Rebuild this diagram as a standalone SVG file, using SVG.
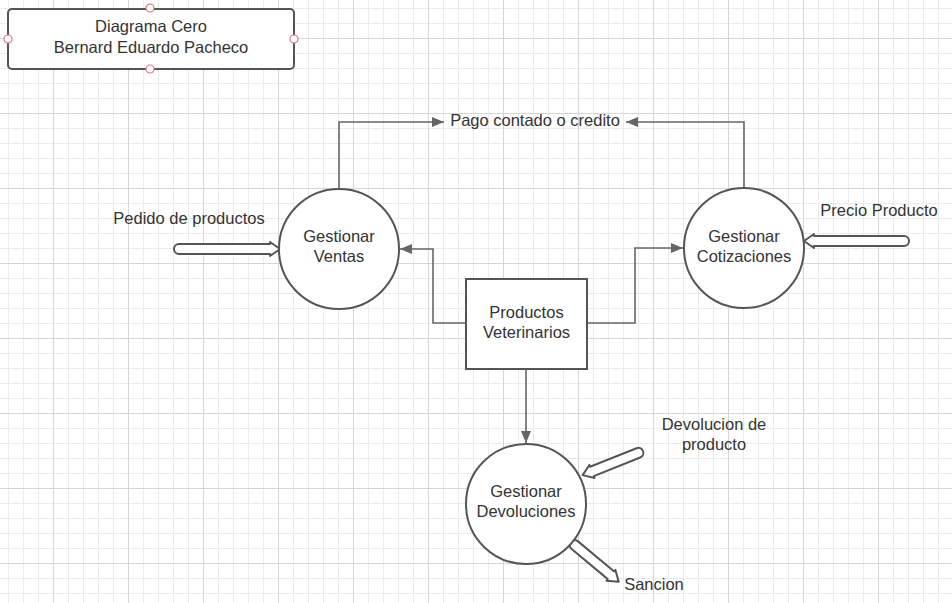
<svg xmlns="http://www.w3.org/2000/svg" width="952" height="603" viewBox="0 0 952 603">
<style>
text{font-family:"Liberation Sans",Arial,sans-serif;font-size:16.5px;fill:#333;text-anchor:middle}
.node{fill:#fff;stroke:#555;stroke-width:2}
.conn{fill:none;stroke:#666;stroke-width:1.6}
.fat{fill:#fff;stroke:#555;stroke-width:2;stroke-linejoin:round}
.pt{fill:#fff;stroke:#e2707c;stroke-width:1.2}
</style>
<defs>
<pattern id="grid" patternUnits="userSpaceOnUse" x="53" y="113" width="75" height="75">
<path d="M15.5 0V75M30.5 0V75M45.5 0V75M60.5 0V75M0 15.5H75M0 30.5H75M0 45.5H75M0 60.5H75" stroke="#ebebeb" stroke-width="1"/>
<path d="M0.5 0V75M0 0.5H75" stroke="#d6d6d6" stroke-width="1"/>
</pattern>
<marker id="ah" viewBox="0 0 12 10" refX="12" refY="5" markerWidth="12" markerHeight="10" markerUnits="userSpaceOnUse" orient="auto">
<path d="M0 0L12 5L0 10Z" fill="#666"/>
</marker>
</defs>
<rect width="952" height="603" fill="#fff"/>
<rect width="952" height="603" fill="url(#grid)"/>

<g id="title">
<rect class="node" x="8" y="9" width="286" height="60" rx="4"/>
<text x="151" y="31.5">Diagrama Cero</text>
<text x="151" y="52.5">Bernard Eduardo Pacheco</text>
<circle class="pt" cx="150" cy="8" r="4"/>
<circle class="pt" cx="8" cy="39" r="4"/>
<circle class="pt" cx="294" cy="39" r="4"/>
<circle class="pt" cx="150" cy="69" r="4"/>
</g>

<g id="connectors">
<path class="conn" d="M339 189V122H444" marker-end="url(#ah)"/>
<path class="conn" d="M744 188V122H626" marker-end="url(#ah)"/>
<path class="conn" d="M466 323H433V249H400" marker-end="url(#ah)"/>
<path class="conn" d="M587 323H635V248H683" marker-end="url(#ah)"/>
<path class="conn" d="M526 369V443" marker-end="url(#ah)"/>
<path class="fat" transform="translate(174 249)" d="M5-5H96V-7L106 0L96 7V5H5A5 5 0 0 1 5-5Z"/>
<path class="fat" transform="translate(909 241) rotate(180)" d="M5-5H95V-7L105 0L95 7V5H5A5 5 0 0 1 5-5Z"/>
<path class="fat" transform="translate(643 451) rotate(158.2)" d="M5-5H55V-7L65 0L55 7V5H5A5 5 0 0 1 5-5Z"/>
<path class="fat" transform="translate(571 542) rotate(39.8)" d="M5-5H52V-7L62 0L52 7V5H5A5 5 0 0 1 5-5Z"/>
</g>

<g id="label-pago"><text x="535" y="125.5">Pago contado o credito</text></g>
<g id="label-pedido"><text x="189" y="223.5">Pedido de productos</text></g>
<g id="label-precio"><text x="879" y="215.5">Precio Producto</text></g>
<g id="label-devolucion"><text x="714" y="429.5">Devolucion de</text><text x="714" y="449.5">producto</text></g>
<g id="label-sancion"><text x="654" y="589.5">Sancion</text></g>

<g id="gestionar-ventas">
<circle class="node" cx="339" cy="249" r="60"/>
<text x="339" y="241.5">Gestionar</text>
<text x="339" y="261.5">Ventas</text>
</g>
<g id="gestionar-cotizaciones">
<circle class="node" cx="744" cy="248" r="60"/>
<text x="744" y="241.5">Gestionar</text>
<text x="744" y="261.5">Cotizaciones</text>
</g>
<g id="productos-veterinarios">
<rect class="node" x="466" y="279" width="121" height="90"/>
<text x="526.5" y="317.5">Productos</text>
<text x="526.5" y="337.5">Veterinarios</text>
</g>
<g id="gestionar-devoluciones">
<circle class="node" cx="526" cy="504" r="60"/>
<text x="526" y="496.5">Gestionar</text>
<text x="526" y="516.5">Devoluciones</text>
</g>
</svg>
